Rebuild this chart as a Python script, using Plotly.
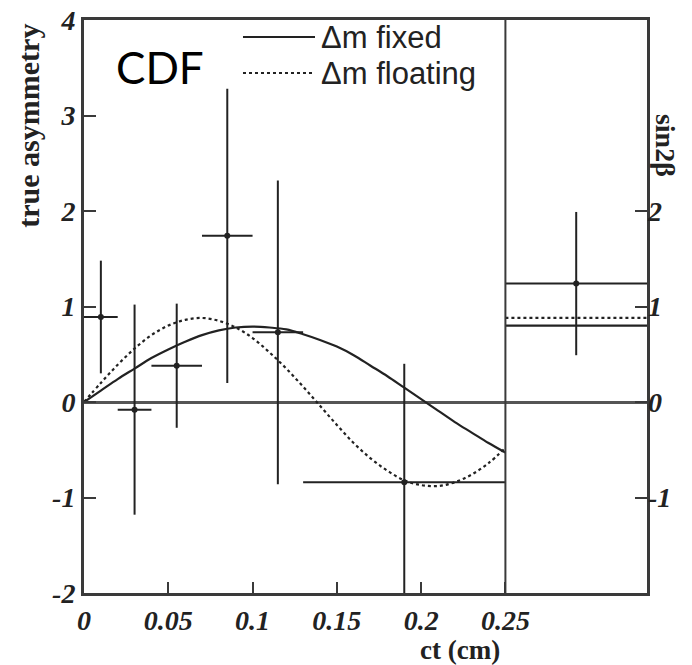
import plotly.graph_objects as go

# ---- data ----
ct_center = [0.01, 0.03, 0.055, 0.085, 0.115, 0.19]
ct_err_lo = [0.01, 0.01, 0.015, 0.015, 0.015, 0.06]
ct_err_hi = [0.01, 0.01, 0.015, 0.015, 0.015, 0.06]
asym = [0.89, -0.08, 0.38, 1.74, 0.73, -0.84]
asym_err = [0.59, 1.10, 0.65, 1.54, 1.59, 1.24]

curve_ct = [0.00, 0.01, 0.02, 0.03, 0.04, 0.05, 0.06, 0.07, 0.08, 0.09, 0.10, 0.11, 0.12,
            0.13, 0.14, 0.15, 0.16, 0.17, 0.18, 0.19, 0.20, 0.21, 0.22, 0.23, 0.24, 0.25]
fixed_curve = [0.00, 0.12, 0.24, 0.35, 0.46, 0.55, 0.63, 0.70, 0.75, 0.78, 0.79, 0.78, 0.76,
               0.71, 0.65, 0.58, 0.49, 0.38, 0.27, 0.15, 0.03, -0.09, -0.21, -0.32, -0.43, -0.53]
floating_curve = [0.00, 0.20, 0.39, 0.56, 0.70, 0.80, 0.86, 0.88, 0.85, 0.78, 0.67, 0.52, 0.35,
                  0.16, -0.04, -0.24, -0.43, -0.59, -0.72, -0.82, -0.87, -0.88, -0.84, -0.76, -0.64, -0.48]

sin2b_ct = [0.292]
sin2b_val = [1.24]
sin2b_err = [0.75]
sin2b_xhalf = [0.042]
panel_edges = [0.25, 0.334]
sin2b_fixed = [0.80, 0.80]
sin2b_floating = [0.88, 0.88]

xtick_vals = [0, 0.05, 0.1, 0.15, 0.2, 0.25]
xtick_text = ["0", "0.05", "0.1", "0.15", "0.2", "0.25"]
ytick_vals = [-2, -1, 0, 1, 2, 3, 4]
ytick_text = ["-2", "-1", "0", "1", "2", "3", "4"]
y2tick_vals = [-1, 0, 1, 2]
y2tick_text = ["-1", "0", "1", "2"]

INK = "#222222"
FRAME = "#3a3a3a"
tickfont = dict(family="Liberation Serif", size=28, color=INK, weight="bold", style="italic")
labfont = dict(family="Liberation Serif", size=30, color=INK, weight="bold")

fig = go.Figure()

fig.add_trace(go.Scatter(x=curve_ct, y=fixed_curve, mode="lines", line=dict(color=INK, width=2.2, shape="spline"),
                         showlegend=False))
fig.add_trace(go.Scatter(x=curve_ct, y=floating_curve, mode="lines",
                         line=dict(color=INK, width=2.2, dash="dot", shape="spline"), showlegend=False))

fig.add_trace(go.Scatter(
    x=ct_center, y=asym, mode="markers",
    marker=dict(color=INK, size=6),
    error_x=dict(type="data", array=ct_err_hi, arrayminus=ct_err_lo, color=INK, thickness=2, width=0),
    error_y=dict(type="data", array=asym_err, arrayminus=asym_err, color=INK, thickness=2, width=0),
    showlegend=False))

fig.add_trace(go.Scatter(
    x=sin2b_ct, y=sin2b_val, mode="markers",
    marker=dict(color=INK, size=6),
    error_x=dict(type="data", array=sin2b_xhalf, arrayminus=sin2b_xhalf, color=INK, thickness=2, width=0),
    error_y=dict(type="data", array=sin2b_err, arrayminus=sin2b_err, color=INK, thickness=2, width=0),
    showlegend=False))
fig.add_trace(go.Scatter(x=panel_edges, y=sin2b_fixed, mode="lines", line=dict(color=INK, width=2.2),
                         showlegend=False))
fig.add_trace(go.Scatter(x=panel_edges, y=sin2b_floating, mode="lines", line=dict(color=INK, width=2.2, dash="dot"),
                         showlegend=False))
# invisible trace to activate right axis
fig.add_trace(go.Scatter(x=[0.3], y=[0], yaxis="y2", mode="markers", marker=dict(opacity=0),
                         showlegend=False, hoverinfo="skip"))

# separator at ct = 0.25
fig.add_shape(type="line", xref="x", yref="paper", x0=0.25, x1=0.25, y0=0, y1=1,
              line=dict(color=FRAME, width=2))

# manual legend
fig.add_shape(type="line", xref="paper", yref="paper", x0=0.2824, x1=0.4103, y0=0.9703, y1=0.9703,
              line=dict(color=INK, width=2))
fig.add_shape(type="line", xref="paper", yref="paper", x0=0.2824, x1=0.4103, y0=0.9075, y1=0.9075,
              line=dict(color=INK, width=2, dash="dot"))
legfont = dict(family="Liberation Sans", size=31, color=INK)
fig.add_annotation(x=0.418, y=0.9703, xref="paper", yref="paper", text="Δm fixed", showarrow=False,
                   xanchor="left", yanchor="middle", font=legfont)
fig.add_annotation(x=0.418, y=0.9075, xref="paper", yref="paper", text="Δm floating", showarrow=False,
                   xanchor="left", yanchor="middle", font=legfont)

fig.add_annotation(x=0.135, y=0.918, xref="paper", yref="paper", text="CDF", showarrow=False,
                   xanchor="center", yanchor="middle", font=dict(family="Lato", size=44, color="black"))

fig.add_annotation(x=-0.1, y=0.815, xref="paper", yref="paper", text="true asymmetry", showarrow=False,
                   textangle=-90, xanchor="center", yanchor="middle", font=labfont)
fig.add_annotation(x=1.032, y=0.782, xref="paper", yref="paper", text="sin2β", showarrow=False,
                   textangle=90, xanchor="center", yanchor="middle", font=dict(labfont, size=28))
fig.add_annotation(x=0.668, y=-0.1, xref="paper", yref="paper", text="ct (cm)", showarrow=False,
                   xanchor="center", yanchor="middle", font=dict(labfont, size=27))

fig.update_layout(
    width=692, height=665,
    margin=dict(l=84, r=45, t=20, b=72, autoexpand=False),
    paper_bgcolor="white", plot_bgcolor="white",
    showlegend=False,
    xaxis=dict(range=[0, 0.334], tickvals=xtick_vals, ticktext=xtick_text, ticks="inside", ticklen=11,
               tickwidth=2, tickcolor=FRAME, showgrid=False, zeroline=False, showline=True, mirror=True,
               linecolor=FRAME, linewidth=3, tickfont=tickfont, automargin=False),
    yaxis=dict(range=[-2, 4], tickvals=ytick_vals, ticktext=ytick_text, ticks="inside", ticklen=12,
               tickwidth=2, tickcolor=FRAME, showgrid=False, zeroline=True, zerolinecolor="#555555",
               zerolinewidth=2.5, showline=True, mirror=True, linecolor=FRAME, linewidth=3, tickfont=tickfont,
               automargin=False),
    yaxis2=dict(range=[-2, 4], overlaying="y", side="right", tickvals=y2tick_vals, ticktext=y2tick_text,
                ticks="inside", ticklen=12, tickwidth=2, tickcolor=FRAME, showgrid=False, zeroline=False,
                showline=False, tickfont=tickfont, automargin=False),
)

fig.write_html("out.html", config={"displayModeBar": False},
               post_script="document.body.style.margin='0';document.body.style.overflow='hidden';")
